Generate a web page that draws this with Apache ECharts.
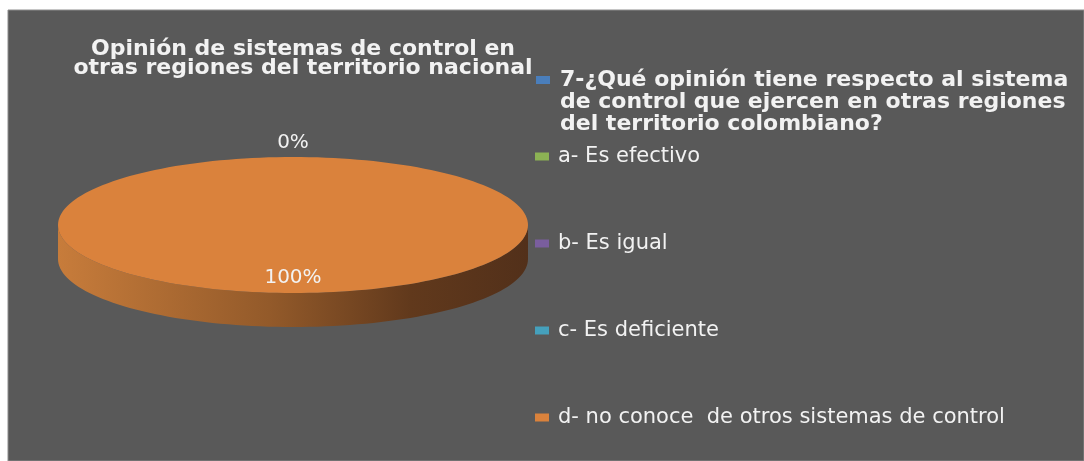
<!DOCTYPE html>
<html>
<head>
<meta charset="utf-8">
<script src="https://cdn.jsdelivr.net/npm/echarts@6/dist/echarts.min.js"></script>
<style>
  html, body { margin: 0; padding: 0; background: #ffffff; }
  #chart { width: 1084px; height: 461px; }
</style>
</head>
<body>
<div id="chart"></div>
<script>
// categorias de la pregunta 7
var categories = [
    '7-¿Qué opinión tiene respecto al sistema de control que ejercen en otras regiones del territorio colombiano?',
    'a- Es efectivo',
    'b- Es igual',
    'c- Es deficiente',
    'd- no conoce  de otros sistemas de control'
];
// porcentajes
var values = [0, 0, 0, 0, 100];
var colors = ['#4A7EBB', '#8CB254', '#7A5E9E', '#45A0BC', '#DA823C'];

var myChart = echarts.init(document.getElementById('chart'));

// geometria del pastel 3D (elipse)
var cx = 293, cy = 225, rx = 235, ry = 68, depth = 34;
var total = 0;
for (var i = 0; i < values.length; i++) total += values[i];
var starts = [];
var acc = 0;
for (var i = 0; i < values.length; i++) { starts.push(acc); acc += values[i]; }

function pt(a, dy) {
    return [cx + rx * Math.sin(a), cy - ry * Math.cos(a) + (dy || 0)];
}
function arcPoints(a0, a1, dy) {
    var pts = [];
    var n = Math.max(2, Math.ceil((a1 - a0) / (Math.PI / 90)));
    for (var k = 0; k <= n; k++) pts.push(pt(a0 + (a1 - a0) * k / n, dy));
    return pts;
}

var sideGradient = {
    type: 'linear', global: true,
    x: cx - rx, y: 0, x2: cx + rx, y2: 0,
    colorStops: [
        { offset: 0, color: '#C77C3B' },
        { offset: 0.45, color: '#935A2A' },
        { offset: 0.75, color: '#61391C' },
        { offset: 1, color: '#52301A' }
    ]
};

// corta el texto largo en lineas de max caracteres
function wrapText(name, max) {
    var words = name.split(' ');
    var lines = [], cur = '';
    words.forEach(function (w) {
        var next = cur ? cur + ' ' + w : w;
        if (next.length > max && cur) { lines.push(cur); cur = w; }
        else cur = next;
    });
    if (cur) lines.push(cur);
    return lines;
}

function renderSlice(params, api) {
    var idx = params.seriesIndex;
    var value = api.value(0);
    var a0 = starts[idx] / total * Math.PI * 2;
    var a1 = (starts[idx] + value) / total * Math.PI * 2;
    var children = [];
    // cara lateral visible (mitad frontal)
    var f0 = Math.max(a0, Math.PI / 2), f1 = Math.min(a1, Math.PI * 1.5);
    if (f1 > f0) {
        var top = arcPoints(f0, f1, 0);
        var bottom = arcPoints(f0, f1, depth).reverse();
        children.push({
            type: 'polygon',
            shape: { points: top.concat(bottom) },
            style: { fill: sideGradient }
        });
    }
    // cara superior
    if (a1 > a0) {
        children.push({
            type: 'polygon',
            shape: { points: [[cx, cy]].concat(arcPoints(a0, a1, 0)) },
            style: { fill: api.visual('color') }
        });
    }
    // etiqueta de porcentaje (se omite si coincide con una anterior)
    var dup = false;
    for (var j = 0; j < idx; j++) {
        if (starts[j] === starts[idx] && values[j] === value) dup = true;
    }
    if (!dup) {
        var mid = (a0 + a1) / 2;
        var pos;
        if (value / total < 0.05) {
            pos = [cx + (rx + 14) * Math.sin(mid), cy - (ry + 14) * Math.cos(mid)];
        } else {
            pos = [cx + rx * 0.78 * Math.sin(mid), cy - ry * 0.78 * Math.cos(mid)];
        }
        children.push({
            type: 'text',
            z2: 10,
            style: {
                text: Math.round(value / total * 100) + '%',
                x: pos[0], y: pos[1],
                align: 'center', verticalAlign: 'middle',
                fill: '#F2F2F2',
                font: '20px "DejaVu Sans"'
            }
        });
    }
    return { type: 'group', children: children };
}

var series = [];
for (var i = 0; i < categories.length; i++) {
    series.push({
        name: categories[i],
        type: 'custom',
        coordinateSystem: 'none',
        itemStyle: { color: colors[i] },
        renderItem: renderSlice,
        data: [values[i]]
    });
}

var option = {
    backgroundColor: '#ffffff',
    animation: false,
    graphic: [{
        type: 'rect',
        shape: { x: 8, y: 10, width: 1076, height: 451 },
        style: { fill: '#595959', stroke: '#8C8C8C', lineWidth: 1 }
    }],
    title: {
        text: 'Opinión de sistemas de control en\notras regiones del territorio nacional',
        left: 298,
        top: 35,
        textAlign: 'center',
        textStyle: {
            color: '#F2F2F2',
            fontFamily: 'DejaVu Sans',
            fontWeight: 'bold',
            fontSize: 22,
            lineHeight: 19
        }
    },
    legend: [{
        data: [categories[0]],
        left: 531,
        top: 20,
        icon: 'rect',
        itemWidth: 14,
        itemHeight: 8,
        selectedMode: false,
        // dos lineas vacias arriba para que el icono quede en la primera linea
        formatter: function (name) { return '\n\n' + wrapText(name, 40).join('\n'); },
        textStyle: {
            color: '#F2F2F2',
            fontFamily: 'DejaVu Sans',
            fontWeight: 'bold',
            fontSize: 22,
            lineHeight: 22,
            padding: [0, 0, 0, 5]
        }
    }, {
        data: categories.slice(1),
        orient: 'vertical',
        left: 530,
        top: 141,
        icon: 'rect',
        itemWidth: 14,
        itemHeight: 8,
        itemGap: 66,
        selectedMode: false,
        textStyle: {
            color: '#F2F2F2',
            fontFamily: 'DejaVu Sans',
            fontSize: 21,
            lineHeight: 20,
            padding: [0, 0, 0, 4]
        }
    }],
    series: series
};

myChart.setOption(option);
</script>
</body>
</html>
